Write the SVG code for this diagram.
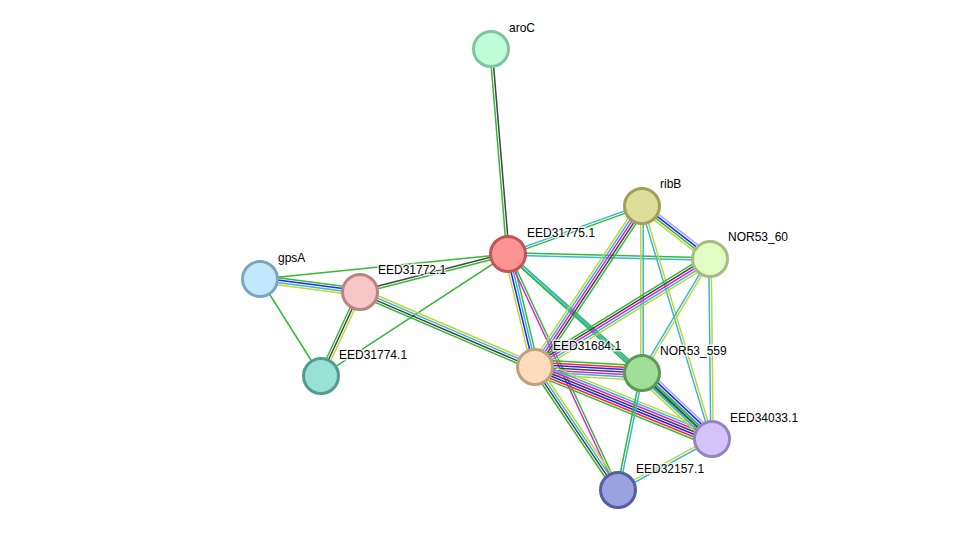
<svg xmlns="http://www.w3.org/2000/svg" width="976" height="536" viewBox="0 0 976 536">
<style>
#edges line{stroke-width:1.5;fill:none}
.g{stroke:#33bb33}.k{stroke:#454545}.b{stroke:#2222ff}.r{stroke:#ff2a2a}.m{stroke:#dd22dd}.c{stroke:#35b6db}.y{stroke:#bfd735}.v{stroke:#a8a8ff}
.node circle{stroke-width:3}
.node text{font-family:"Liberation Sans",Arial,sans-serif;font-size:12px;fill:#000;stroke:#fff;stroke-width:3;stroke-opacity:0.7;paint-order:stroke}
</style>
<rect width="976" height="536" fill="#fff"/>
<g id="edges">
<g transform="translate(491,49) rotate(85.26)"><line x2="205.7" y1="1.2" y2="1.2" class="g"/><line x2="205.7" y1="-1.2" y2="-1.2" class="k"/></g>
<g transform="translate(508,254) rotate(165.6)"><line x2="152.8" y1="1.2" y2="1.2" class="k"/><line x2="152.8" y1="-1.2" y2="-1.2" class="g"/></g>
<g transform="translate(508,254) rotate(174.24)"><line x2="249.3" class="g"/></g>
<g transform="translate(508,254) rotate(146.88)"><line x2="223.3" class="g"/></g>
<g transform="translate(260,279) rotate(7.41)"><line x2="100.8" y1="-3.6" y2="-3.6" class="g"/><line x2="100.8" y1="-1.2" y2="-1.2" class="b"/><line x2="100.8" y1="1.2" y2="1.2" class="c"/><line x2="100.8" y1="3.6" y2="3.6" class="y"/></g>
<g transform="translate(260,279) rotate(57.83)"><line x2="114.6" class="g"/></g>
<g transform="translate(360,292) rotate(114.9)"><line x2="92.6" y1="2.4" y2="2.4" class="g"/><line x2="92.6" class="k"/><line x2="92.6" y1="-2.4" y2="-2.4" class="y"/></g>
<g transform="translate(360,292) rotate(23.2)"><line x2="190.4" y1="-3.6" y2="-3.6" class="y"/><line x2="190.4" y1="-1.2" y2="-1.2" class="c"/><line x2="190.4" y1="1.2" y2="1.2" class="k"/><line x2="190.4" y1="3.6" y2="3.6" class="g"/></g>
<g transform="translate(508,254) rotate(-19.71)"><line x2="142.3" y1="-1.2" y2="-1.2" class="c"/><line x2="142.3" y1="1.2" y2="1.2" class="g"/></g>
<g transform="translate(508,254) rotate(1.42)"><line x2="202.1" y1="-1.2" y2="-1.2" class="g"/><line x2="202.1" y1="1.2" y2="1.2" class="c"/></g>
<g transform="translate(508,254) rotate(76.56)"><line x2="116.2" y1="3.6" y2="3.6" class="y"/><line x2="116.2" y1="1.2" y2="1.2" class="b"/><line x2="116.2" y1="-1.2" y2="-1.2" class="c"/><line x2="116.2" y1="-3.6" y2="-3.6" class="g"/></g>
<g transform="translate(508,254) rotate(41.61)"><line x2="179.2" y1="-1.2" y2="-1.2" class="g"/><line x2="179.2" y1="1.2" y2="1.2" class="c"/></g>
<g transform="translate(508,254) rotate(42.2)"><line x2="275.4" y1="-1.2" y2="-1.2" class="c"/><line x2="275.4" y1="1.2" y2="1.2" class="g"/></g>
<g transform="translate(508,254) rotate(65.01)"><line x2="260.4" y1="1.2" y2="1.2" class="m"/><line x2="260.4" y1="-1.2" y2="-1.2" class="g"/></g>
<g transform="translate(642,206) rotate(37.93)"><line x2="86.2" y1="-3.6" y2="-3.6" class="v"/><line x2="86.2" y1="-1.2" y2="-1.2" class="b"/><line x2="86.2" y1="1.2" y2="1.2" class="g"/><line x2="86.2" y1="3.6" y2="3.6" class="y"/></g>
<g transform="translate(642,206) rotate(123.61)"><line x2="193.3" y1="4.8" y2="4.8" class="y"/><line x2="193.3" y1="2.4" y2="2.4" class="c"/><line x2="193.3" class="m"/><line x2="193.3" y1="-2.4" y2="-2.4" class="k"/><line x2="193.3" y1="-4.8" y2="-4.8" class="g"/></g>
<g transform="translate(642,206) rotate(90)"><line x2="167" y1="1.2" y2="1.2" class="y"/><line x2="167" y1="-1.2" y2="-1.2" class="c"/></g>
<g transform="translate(642,206) rotate(73.28)"><line x2="243.3" y1="1.2" y2="1.2" class="c"/><line x2="243.3" y1="-1.2" y2="-1.2" class="y"/></g>
<g transform="translate(710,259) rotate(148.32)"><line x2="205.6" y1="4.8" y2="4.8" class="g"/><line x2="205.6" y1="2.4" y2="2.4" class="k"/><line x2="205.6" class="m"/><line x2="205.6" y1="-2.4" y2="-2.4" class="c"/><line x2="205.6" y1="-4.8" y2="-4.8" class="y"/></g>
<g transform="translate(710,259) rotate(120.81)"><line x2="132.7" y1="1.2" y2="1.2" class="c"/><line x2="132.7" y1="-1.2" y2="-1.2" class="y"/></g>
<g transform="translate(710,259) rotate(89.36)"><line x2="180" y1="1.2" y2="1.2" class="c"/><line x2="180" y1="-1.2" y2="-1.2" class="y"/></g>
<g transform="translate(535,367) rotate(3.21)"><line x2="107.2" y1="-7.2" y2="-7.2" class="g"/><line x2="107.2" y1="-4.8" y2="-4.8" class="r"/><line x2="107.2" y1="-2.4" y2="-2.4" class="b"/><line x2="107.2" class="k"/><line x2="107.2" y1="2.4" y2="2.4" class="m"/><line x2="107.2" y1="4.8" y2="4.8" class="c"/><line x2="107.2" y1="7.2" y2="7.2" class="y"/></g>
<g transform="translate(535,367) rotate(22.14)"><line x2="191.1" y1="-7.2" y2="-7.2" class="y"/><line x2="191.1" y1="-4.8" y2="-4.8" class="c"/><line x2="191.1" y1="-2.4" y2="-2.4" class="m"/><line x2="191.1" class="k"/><line x2="191.1" y1="2.4" y2="2.4" class="b"/><line x2="191.1" y1="4.8" y2="4.8" class="r"/><line x2="191.1" y1="7.2" y2="7.2" class="g"/></g>
<g transform="translate(535,367) rotate(55.99)"><line x2="148.4" y1="3.6" y2="3.6" class="g"/><line x2="148.4" y1="1.2" y2="1.2" class="k"/><line x2="148.4" y1="-1.2" y2="-1.2" class="c"/><line x2="148.4" y1="-3.6" y2="-3.6" class="y"/></g>
<g transform="translate(642,373) rotate(43.32)"><line x2="96.2" y1="-6" y2="-6" class="v"/><line x2="96.2" y1="-3.6" y2="-3.6" class="b"/><line x2="96.2" y1="-1.2" y2="-1.2" class="g"/><line x2="96.2" y1="1.2" y2="1.2" class="k"/><line x2="96.2" y1="3.6" y2="3.6" class="c"/><line x2="96.2" y1="6" y2="6" class="y"/></g>
<g transform="translate(642,373) rotate(101.59)"><line x2="119.4" y1="1.2" y2="1.2" class="g"/><line x2="119.4" y1="-1.2" y2="-1.2" class="c"/></g>
<g transform="translate(712,439) rotate(151.52)"><line x2="106.9" y1="1.2" y2="1.2" class="y"/><line x2="106.9" y1="-1.2" y2="-1.2" class="c"/></g>
</g>
<g id="aroC" class="node"><circle cx="491" cy="49" r="17.5" fill="#c0fdd9" stroke="#80c59e"/><text x="509" y="32">aroC</text></g>
<g id="EED31775.1" class="node"><circle cx="508" cy="254" r="17.5" fill="#fd9393" stroke="#c05555"/><text x="527" y="237">EED31775.1</text></g>
<g id="ribB" class="node"><circle cx="642" cy="206" r="17.5" fill="#dedd99" stroke="#a0a058"/><text x="660" y="188">ribB</text></g>
<g id="NOR53_60" class="node"><circle cx="710" cy="259" r="17.5" fill="#e1fdc3" stroke="#a5bd83"/><text x="728" y="241">NOR53_60</text></g>
<g id="gpsA" class="node"><circle cx="260" cy="279" r="17.5" fill="#c1e8fd" stroke="#7ea5bf"/><text x="278" y="262">gpsA</text></g>
<g id="EED31772.1" class="node"><circle cx="360" cy="292" r="17.5" fill="#f8c6c6" stroke="#b88484"/><text x="378" y="274">EED31772.1</text></g>
<g id="EED31774.1" class="node"><circle cx="321" cy="376" r="17.5" fill="#99e0d5" stroke="#549c92"/><text x="339" y="359">EED31774.1</text></g>
<g id="EED31684.1" class="node"><circle cx="535" cy="367" r="17.5" fill="#fddcbd" stroke="#c0a07f"/><text x="553" y="350">EED31684.1</text></g>
<g id="NOR53_559" class="node"><circle cx="642" cy="373" r="17.5" fill="#a0df98" stroke="#5e9a57"/><text x="660" y="355">NOR53_559</text></g>
<g id="EED34033.1" class="node"><circle cx="712" cy="439" r="17.5" fill="#d3c3fb" stroke="#9883c0"/><text x="730" y="422">EED34033.1</text></g>
<g id="EED32157.1" class="node"><circle cx="618" cy="490" r="17.5" fill="#98a3df" stroke="#555fa0"/><text x="636" y="473">EED32157.1</text></g>
</svg>
